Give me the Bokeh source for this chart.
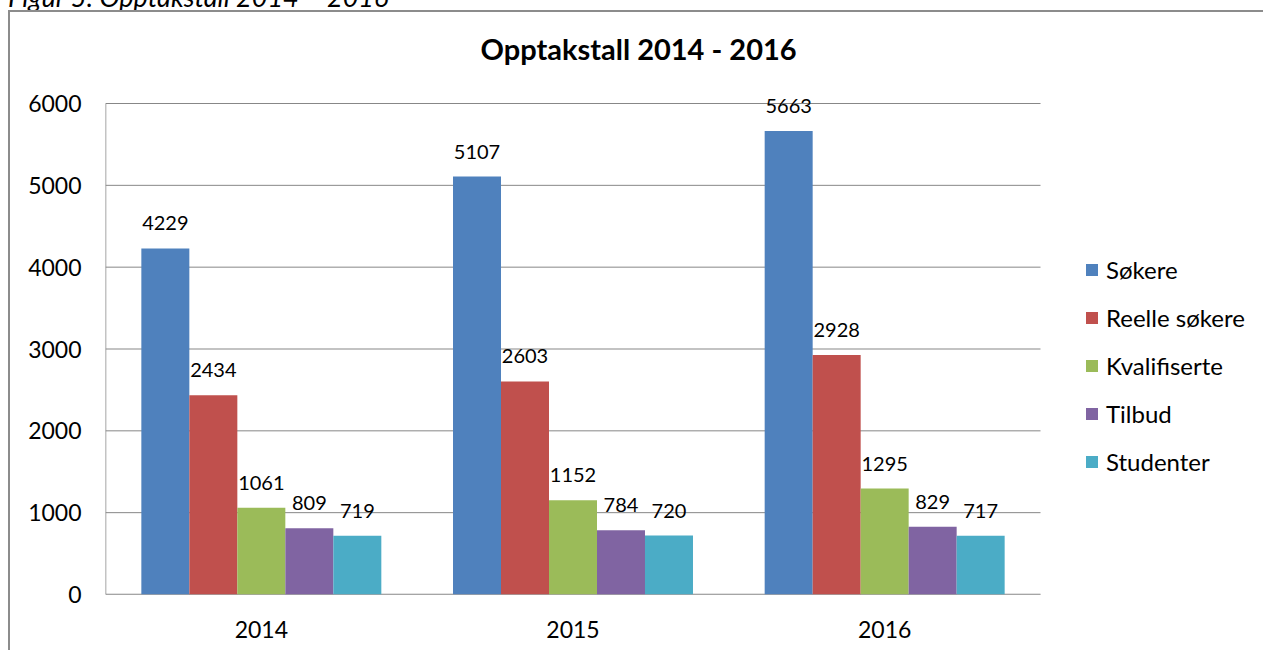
from bokeh.plotting import figure
from bokeh.layouts import column
from bokeh.models import Range1d, FixedTicker, Legend, LegendItem, ColumnDataSource, Div
from bokeh.core.properties import value
from bokeh.embed import file_html
from bokeh.resources import INLINE

caption_text = "Figur 5: Opptakstall 2014 – 2016"
title_text = "Opptakstall 2014 - 2016"
years = ["2014", "2015", "2016"]
series = ["Søkere", "Reelle søkere", "Kvalifiserte", "Tilbud", "Studenter"]
sokere = [4229, 5107, 5663]
reelle = [2434, 2603, 2928]
kvalifiserte = [1061, 1152, 1295]
tilbud = [809, 784, 829]
studenter = [719, 720, 717]
colors = ["#4F81BD", "#C0504D", "#9BBB59", "#8064A2", "#4BACC6"]
y_ticks = [0, 1000, 2000, 3000, 4000, 5000, 6000]

FONT = "Lato"
GRID = "#878787"
W, H = 1255, 640
TOP, BOTTOM, LEFT = 66, 58, 95
plot_w_px = 935          # width of the category area in pixels
frame_w_px = W - LEFT    # frame reaches the right edge (legend lives inside)
frame_h_px = H - TOP - BOTTOM
n = len(years)
ymax = y_ticks[-1]

x_end = n * frame_w_px / plot_w_px
y_end = ymax * frame_h_px / 491.0

p = figure(width=W, height=H, x_range=Range1d(0, x_end), y_range=Range1d(0, y_end),
           output_backend="svg", toolbar_location=None,
           min_border_left=LEFT, min_border_right=0, min_border_top=TOP, min_border_bottom=BOTTOM,
           title=title_text)
p.styles = {"border-left": "2px solid #8c8c8c", "border-top": "2px solid #8c8c8c",
            "border-right": "none", "border-bottom": "none", "margin-left": "8px"}
p.title.align = "left"
p.title.offset = 375
p.title.text_font = FONT
p.title.text_font_size = "29px"
p.title.text_font_style = "bold"
p.title.text_color = "#000000"
p.title.standoff = 25

p.outline_line_color = None
p.xgrid.grid_line_color = None
p.ygrid.grid_line_color = None

centers = [i + 0.5 for i in range(n)]
p.xaxis.ticker = FixedTicker(ticks=centers)
p.xaxis.major_label_overrides = {c: y for c, y in zip(centers, years)}
p.yaxis.ticker = FixedTicker(ticks=y_ticks)
for ax in (p.xaxis, p.yaxis):
    ax.major_tick_line_color = None
    ax.minor_tick_line_color = None
    ax.axis_line_color = None
    ax.major_label_text_font = FONT
    ax.major_label_text_font_size = "23px"
    ax.major_label_text_color = "#000000"
p.yaxis.major_label_standoff = 18
p.xaxis.major_label_standoff = 20

# gridlines and axis lines limited to the category area
p.segment(x0=[0] * len(y_ticks), x1=[n] * len(y_ticks), y0=y_ticks, y1=y_ticks,
          line_color=GRID, line_width=1)
p.segment(x0=[0], x1=[n], y0=[0], y1=[0], line_color=GRID, line_width=1.5)
p.segment(x0=[0], x1=[0], y0=[0], y1=[ymax], line_color=GRID, line_width=1.5)

bw = 0.154
data = [sokere, reelle, kvalifiserte, tilbud, studenter]
items = []
for i, (name, vals, col) in enumerate(zip(series, data, colors)):
    xs = [c + (i - 2) * bw for c in centers]
    src = ColumnDataSource(dict(x=xs, v=vals, t=[str(v) for v in vals]))
    r = p.vbar(x="x", top="v", width=bw, source=src, fill_color=col, line_color=None)
    p.text(x="x", y="v", text="t", source=src,
           text_align="center", text_baseline="middle", y_offset=-25,
           text_font=value(FONT), text_font_size="20px", text_color="#000000")
    items.append(LegendItem(label=name, renderers=[r]))

legend = Legend(items=items, location=(979, 118), orientation="vertical",
                border_line_color=None, background_fill_alpha=0,
                padding=0, margin=0, glyph_width=15, glyph_height=15,
                label_height=29, spacing=19, label_standoff=7,
                label_text_font=FONT, label_text_font_size="24px", label_text_color="#000000")
p.add_layout(legend)

caption = Div(text=("<div style=\"position:relative; top:-17px; left:8px; height:10px; "
                    "overflow:visible; font-family:'Lato'; font-style:italic; font-size:27px; "
                    "line-height:27px; white-space:nowrap;\">" + caption_text + "</div>"),
              width=600, height=10, margin=0, styles={"overflow": "visible"})

layout = column(caption, p, spacing=0)
open("out.html", "w").write(file_html(layout, INLINE))
